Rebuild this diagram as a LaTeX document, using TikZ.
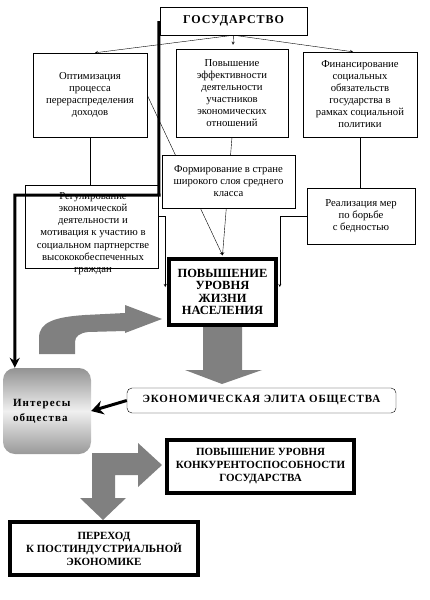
\documentclass[tikz,border=0pt]{standalone}
\usepackage{fontspec}
\setmainfont{Liberation Serif}
\usetikzlibrary{calc,arrows.meta,backgrounds}

\begin{document}
\begin{tikzpicture}[x=1pt,y=-1pt]
%styles des noeuds
\tikzstyle{textBox}=[rectangle, draw, fill=white, thin, align=center, inner sep=0pt, text=black, font=\fontsize{10.7}{12}\selectfont]
\tikzstyle{boldBox}=[rectangle, draw, fill=white, line width=3.5pt, align=center, inner sep=0pt, text=black, font=\bfseries\fontsize{11}{13}\selectfont]
\tikzstyle{vector}=[-stealth, thin]
\tikzstyle{thickLine}=[line width=3pt, -{Stealth[length=10pt,width=10pt]}]
\tikzstyle{grayArrow}=[fill=gray]
\useasboundingbox (0,0) rectangle (429,600);
%figure
\node[textBox, font=\bfseries\fontsize{12}{14}\selectfont\addfontfeature{LetterSpace=8}, minimum width=147, minimum height=28] (gos) at (233.5,21) {ГОСУДАРСТВО};

\node[textBox, minimum width=114, minimum height=84] (opt) at (90,95) {Оптимизация\\процесса\\перераспределения\\доходов};
\node[textBox, minimum width=112, minimum height=88] (eff) at (232,93) {Повышение\\эффективности\\деятельности\\участников\\экономических\\отношений};
\node[textBox, minimum width=114, minimum height=85] (fin) at (360,94.5) {Финансирование\\социальных\\обязательств\\государства в\\рамках социальной\\политики};

\node[textBox, minimum width=133, minimum height=53] (form) at (228.5,181.5) {Формирование в стране\\широкого слоя среднего\\класса};
\node[textBox, minimum width=133, minimum height=83] (reg) at (91.5,226.5) {};
\node[align=center, inner sep=0pt, font=\fontsize{10.7}{12.2}\selectfont] (regText) at (93,233.5) {Регулирование\\экономической\\деятельности и\\мотивация к участию в\\социальном партнерстве\\высококобеспеченных\\граждан};
\node[textBox, minimum width=108, minimum height=56] (real) at (361,216) {Реализация мер\\по борьбе\\с бедностью};

\node[boldBox, font=\bfseries\fontsize{12.5}{12.5}\selectfont, minimum width=107, minimum height=66] (pov) at (222.5,292) {ПОВЫШЕНИЕ\\УРОВНЯ\\ЖИЗНИ\\НАСЕЛЕНИЯ};

\node[rectangle, rounded corners=12pt, top color=gray!85, bottom color=gray!80, middle color=gray!12, minimum width=88, minimum height=86, inner sep=0pt, inner xsep=10pt, text width=68, align=left, font=\bfseries\fontsize{11}{15}\selectfont\addfontfeature{LetterSpace=10}] (int) at (47,411) {Интересы\\общества};
\node[rectangle, draw, thin, rounded corners=5pt, fill=white, minimum width=269, minimum height=25, inner sep=0pt, font=\bfseries\fontsize{11}{13}\selectfont\addfontfeature{LetterSpace=8}] (elite) at (261.5,400.5) {ЭКОНОМИЧЕСКАЯ ЭЛИТА ОБЩЕСТВА};

\node[boldBox, minimum width=187, minimum height=53] (konk) at (260.5,466.5) {ПОВЫШЕНИЕ УРОВНЯ\\КОНКУРЕНТОСПОСОБНОСТИ\\ГОСУДАРСТВА};
\node[boldBox, minimum width=188, minimum height=53] (per) at (104,548.5) {ПЕРЕХОД\\К ПОСТИНДУСТРИАЛЬНОЙ\\ЭКОНОМИКЕ};

%liens
\begin{scope}[on background layer]
\draw[vector] (gos.south) -- ($(opt.north)+(5,0)$);
\draw[vector] (gos.south) -- ($(eff.north)+(1,-4)$);
\draw[vector] (gos.south) -- ($(fin.north)+(-7,0)$);

\draw (opt.south) -- (opt.south |- reg.north);
\draw (fin.south) -- (fin.south |- real.north);
\draw[vector] (opt.east) -- ($(pov.north)+(0,-2)$);
\draw[vector] (eff.south) -- ($(pov.north)+(0,-2)$);
\draw[vector] (reg.east |- real.west) -| ($(pov.west)+(-2,-5)$);
\draw[vector] (real.west) -| ($(pov.east)+(2,-5)$);
\end{scope}

\coordinate (turn) at (159,195);
\draw[thickLine] ($(gos.west)+(-1,0)$) -- (turn) -| ($(int.north west)+(12,0)$);
\draw[line width=3pt, -{Stealth[length=12pt,width=14pt,inset=4pt]}] (elite.west) -- (int.east);

%fleches grises
\fill[grayArrow] (39,354) -- (39,338) .. controls (39,322) and (55,317) .. (85,315) -- (125,313) -- (125,305) -- (162,319) -- (125,333) -- (125,331) -- (88,332) .. controls (80,333) and (75,336) .. (75,342) -- (75,354) -- cycle;
\fill[grayArrow] (203,327) -- (242,327) -- (242,370) -- (262,370) -- (222,384) -- (185,370) -- (203,370) -- cycle;
\fill[grayArrow] (92,498) -- (92,453) -- (138,453) -- (138,443) -- (162,465) -- (138,487) -- (138,475) -- (115,475) -- (115,498) -- (126,498) -- (103,520) -- (80,498) -- cycle;

\end{tikzpicture}
\end{document}
